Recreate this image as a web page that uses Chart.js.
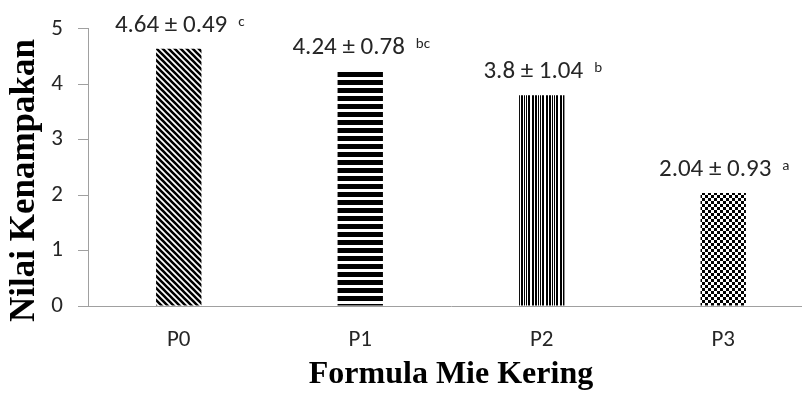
<!DOCTYPE html>
<html>
<head>
<meta charset="utf-8">
<script src="https://cdn.jsdelivr.net/npm/chart.js@4"></script>
<style>
  html, body { margin: 0; padding: 0; background: #fff; overflow: hidden; }
  #wrap { width: 816px; height: 396px; }
</style>
</head>
<body>
<div id="wrap"><canvas id="chart1"></canvas></div>
<script>
const categories = ["P0", "P1", "P2", "P3"];
const means = [4.64, 4.24, 3.8, 2.04];
const meanLabels = ["4.64", "4.24", "3.8", "2.04"];
const sds = ["0.49", "0.78", "1.04", "0.93"];
const letters = ["c", "bc", "b", "a"];

const tickFont = "Carlito, Lato, sans-serif";

// black & white fill patterns for the bars
function makePattern(w, h, draw) {
  const c = document.createElement("canvas");
  c.width = w;
  c.height = h;
  const g = c.getContext("2d");
  g.fillStyle = "#fff";
  g.fillRect(0, 0, w, h);
  g.fillStyle = "#000";
  g.strokeStyle = "#000";
  draw(g);
  return document.createElement("canvas").getContext("2d").createPattern(c, "repeat");
}

const diag = makePattern(6, 6, (g) => {
  g.lineWidth = 2.6;
  g.beginPath();
  g.moveTo(-3, -3); g.lineTo(9, 9);
  g.moveTo(-9, -3); g.lineTo(3, 9);
  g.moveTo(3, -3); g.lineTo(15, 9);
  g.stroke();
});
const horiz = makePattern(4, 8, (g) => {
  g.fillRect(0, 0, 4, 5);
});
const vert = makePattern(14, 4, (g) => {
  g.fillRect(0, 0, 2, 4);
  g.fillRect(3, 0, 2, 4);
  g.fillRect(6, 0, 1, 4);
  g.fillRect(8, 0, 1, 4);
  g.fillRect(10, 0, 2, 4);
});
const checker = makePattern(6, 6, (g) => {
  g.fillRect(0, 0, 3, 3);
  g.fillRect(3, 3, 3, 3);
});

// "mean ± sd letter" above each bar
const valueLabels = {
  id: "valueLabels",
  afterDatasetsDraw(chart) {
    const ctx = chart.ctx;
    const meta = chart.getDatasetMeta(0);
    ctx.save();
    ctx.fillStyle = "#262626";
    ctx.textBaseline = "alphabetic";
    ctx.textAlign = "left";
    meta.data.forEach((bar, i) => {
      const main = meanLabels[i] + " \u00b1 " + sds[i];
      ctx.font = "25px " + tickFont;
      const w1 = ctx.measureText(main).width + 11;
      ctx.font = "15px " + tickFont;
      const w2 = ctx.measureText(letters[i]).width;
      const x0 = bar.x - (w1 + w2) / 2 + 1;
      const y = bar.y - 17;
      ctx.font = "25px " + tickFont;
      ctx.fillText(main, x0, y);
      ctx.font = "15px " + tickFont;
      ctx.fillText(letters[i], x0 + w1, y - 6);
    });
    ctx.restore();
  },
};

const data1 = {
  labels: categories,
  datasets: [
    {
      data: means,
      backgroundColor: [diag, horiz, vert, checker],
      borderWidth: 0,
      barPercentage: 0.25,
      categoryPercentage: 1,
    },
  ],
};

const config1 = {
  type: "bar",
  data: data1,
  plugins: [valueLabels],
  options: {
    responsive: true,
    maintainAspectRatio: false,
    animation: false,
    layout: { padding: { top: 25, left: 4, right: 2, bottom: 0 } },
    plugins: { legend: { display: false }, tooltip: { enabled: false } },
    scales: {
      x: {
        afterFit: (scale) => { scale.height = 90; },
        grid: { display: false, drawTicks: false },
        border: { color: "#a0a0a0", width: 1 },
        ticks: { color: "#262626", font: { family: tickFont, size: 23 }, padding: 20 },
        title: {
          display: true,
          text: "Formula Mie Kering",
          color: "#000",
          font: { family: "'Liberation Serif', 'Times New Roman', serif", size: 32, weight: "bold" },
          padding: { top: 0, bottom: 2 },
        },
      },
      y: {
        min: 0,
        max: 5,
        afterFit: (scale) => { scale.width = 84; },
        grid: { drawOnChartArea: false, drawTicks: true, tickLength: 10, color: "#a0a0a0" },
        border: { color: "#a0a0a0", width: 1 },
        ticks: { stepSize: 1, color: "#262626", font: { family: tickFont, size: 23 }, padding: 15 },
        title: {
          display: true,
          // trailing spaces nudge the title down a little like the original
          text: "Nilai Kenampakan   ",
          color: "#000",
          font: { family: "'Liberation Serif', 'Times New Roman', serif", size: 35, weight: "bold" },
          padding: { top: 0, bottom: 0 },
        },
      },
    },
  },
};
const myChart = new Chart(document.getElementById("chart1"), config1);
</script>
</body>
</html>
